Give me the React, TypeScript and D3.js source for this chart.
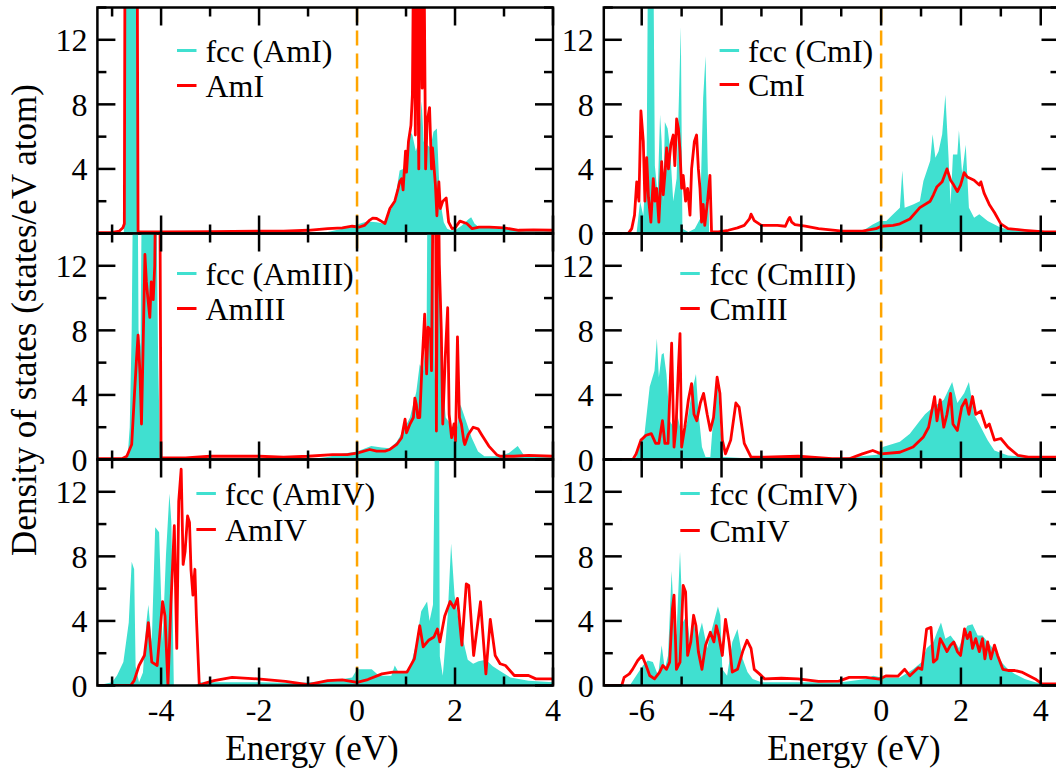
import React from "react";
import * as d3 from "d3";

type P = [number, number];

// ---------- data: [energy (eV), DOS (states/eV atom)] ----------
const amI_fcc: P[] = [[-5.3,0],[-4.76,0],[-4.73,18],[-4.5,18],[-4.48,0],[-4.4,0],[-1.0,0.02],[-0.6,0.1],[-0.3,0.3],[0,0.55],[0.2,0.75],[0.4,0.7],[0.53,0.62],[0.63,1.1],[0.77,2.0],[0.87,3.9],[0.94,4.0],[1.0,4.2],[1.07,6.4],[1.13,6.1],[1.2,5.1],[1.26,5.7],[1.32,8.2],[1.36,5.7],[1.43,5.5],[1.5,5.3],[1.56,6.3],[1.63,6.5],[1.67,3.6],[1.7,2.0],[1.77,0.7],[1.84,0.3],[1.91,0.2],[2.0,0.2],[2.14,0.5],[2.28,0.9],[2.33,1.0],[2.4,0.6],[2.49,0.4],[2.7,0.35],[2.92,0.3],[3.2,0.25],[3.6,0.2],[4.0,0.15]];
const amI: P[] = [[-5.3,0.05],[-5.0,0.07],[-4.85,0.15],[-4.78,0.35],[-4.75,0.6],[-4.735,20],[-4.6,22],[-4.49,20],[-4.47,0.12],[-4.0,0.1],[-3.0,0.12],[-2.0,0.15],[-1.5,0.15],[-1.0,0.2],[-0.6,0.3],[-0.3,0.35],[-0.1,0.45],[0.05,0.4],[0.15,0.5],[0.26,0.83],[0.32,0.95],[0.4,0.93],[0.5,0.75],[0.57,0.62],[0.67,1.55],[0.77,2.0],[0.84,2.8],[0.87,3.2],[0.91,3.4],[0.94,2.7],[0.99,5.1],[1.01,3.8],[1.05,5.7],[1.1,6.7],[1.13,8.6],[1.16,20],[1.19,6.1],[1.22,20],[1.26,4.0],[1.29,20],[1.33,9.0],[1.36,20],[1.4,4.0],[1.43,6.9],[1.48,7.8],[1.52,4.0],[1.54,5.3],[1.6,3.0],[1.63,1.1],[1.67,3.2],[1.7,1.55],[1.75,2.0],[1.82,2.2],[1.87,0.7],[1.94,0.3],[2.0,0.35],[2.1,0.77],[2.24,0.62],[2.35,0.3],[2.49,0.4],[2.7,0.4],[3.0,0.35],[3.3,0.2],[3.6,0.22],[4.0,0.2]];

const amIII_fcc: P[] = [[-5.3,0],[-4.75,0],[-4.68,0.3],[-4.64,2],[-4.6,8],[-4.57,18],[-4.48,18],[-4.46,8],[-4.42,7],[-4.39,18],[-4.1,18],[-4.06,6],[-4.02,0.5],[-4.0,0],[-1.0,0],[-0.6,0.15],[-0.3,0.35],[0,0.5],[0.29,0.83],[0.5,0.75],[0.67,0.7],[0.81,1.1],[0.94,1.76],[1.08,2.6],[1.21,4.2],[1.28,5.9],[1.35,5.5],[1.42,7.8],[1.44,18],[1.55,18],[1.58,4.9],[1.63,12],[1.65,13.7],[1.69,10],[1.75,4.9],[1.81,2.6],[1.91,2.2],[2.01,1.35],[2.11,3.4],[2.2,2.6],[2.34,1.35],[2.47,0.5],[2.6,0.2],[2.9,0.2],[3.1,0.4],[3.28,0.83],[3.4,0.3],[3.6,0.2],[4.0,0.15]];
const amIII: P[] = [[-5.3,0.05],[-4.8,0.05],[-4.7,0.2],[-4.6,0.93],[-4.54,4.24],[-4.5,6.3],[-4.47,7.7],[-4.43,5.3],[-4.4,2.2],[-4.37,6.5],[-4.33,12.7],[-4.3,11.0],[-4.27,10],[-4.23,8.8],[-4.2,11],[-4.16,9.9],[-4.13,12],[-4.1,20],[-4.03,20],[-4.0,0.1],[-3.5,0.1],[-3.0,0.2],[-2.0,0.2],[-1.5,0.15],[-1.0,0.2],[-0.5,0.3],[-0.2,0.3],[0,0.4],[0.26,0.62],[0.4,0.52],[0.57,0.52],[0.67,0.62],[0.81,0.93],[0.91,1.35],[0.98,2.5],[1.01,1.65],[1.08,2.2],[1.15,2.6],[1.18,3.8],[1.21,3.4],[1.24,2.6],[1.28,2.6],[1.33,6.1],[1.38,9.0],[1.42,5.3],[1.45,8.2],[1.5,8.0],[1.52,5.5],[1.56,20],[1.6,20],[1.62,1.76],[1.65,20],[1.68,12.1],[1.72,8.0],[1.75,2.2],[1.8,6.3],[1.85,9.4],[1.88,2.8],[1.93,1.35],[1.98,2.2],[2.01,1.14],[2.05,7.6],[2.09,2.6],[2.13,2.2],[2.18,1.14],[2.2,0.93],[2.27,1.55],[2.37,2.0],[2.47,1.9],[2.55,1.5],[2.69,0.83],[2.85,0.3],[2.92,0.2],[3.2,0.2],[3.5,0.25],[4.0,0.2]];

const amIV_fcc: P[] = [[-5.3,0],[-5.0,0.2],[-4.9,0.62],[-4.77,1.45],[-4.66,3.9],[-4.6,7.66],[-4.55,7.2],[-4.52,1.2],[-4.45,0.2],[-4.37,0.8],[-4.3,3.9],[-4.26,5.0],[-4.19,2.7],[-4.12,9.8],[-4.04,9.5],[-3.97,2.7],[-3.9,8.1],[-3.83,11.9],[-3.79,10.1],[-3.74,0],[-3.3,0],[-3.2,0.2],[-2.0,0.2],[-1.2,0.15],[-0.5,0.3],[-0.1,0.5],[0,1.0],[0.3,1.0],[0.45,0.6],[0.7,0.6],[0.77,1.24],[0.85,0.8],[1.0,0.9],[1.09,1.2],[1.2,2.5],[1.31,4.6],[1.43,5.2],[1.48,4.0],[1.55,5.0],[1.6,18],[1.67,18],[1.69,1.8],[1.75,0.6],[1.85,4.3],[1.92,8.8],[1.99,5.6],[2.09,3.7],[2.19,2.5],[2.26,1.6],[2.37,1.35],[2.48,1.5],[2.63,1.6],[2.77,1.2],[2.92,0.9],[3.13,0.5],[3.5,0.3],[4.0,0.2]];
const amIV: P[] = [[-5.3,0],[-4.62,0],[-4.55,0.3],[-4.45,1.24],[-4.34,1.86],[-4.26,3.9],[-4.19,1.45],[-4.08,1.24],[-3.97,5.2],[-3.92,4.3],[-3.86,0],[-3.8,5.0],[-3.73,9.9],[-3.68,2.3],[-3.64,11.4],[-3.59,13.4],[-3.55,7.5],[-3.51,8.3],[-3.46,10.5],[-3.42,10.1],[-3.39,7.2],[-3.35,5.6],[-3.31,7.2],[-3.28,4.3],[-3.22,0],[-3.1,0.15],[-2.92,0.3],[-2.55,0.5],[-1.97,0.4],[-1.46,0.25],[-1.0,0.05],[-0.6,0.3],[-0.3,0.35],[0,0.2],[0.22,0.37],[0.51,0.72],[0.73,0.83],[1.02,0.83],[1.17,1.65],[1.28,3.7],[1.35,2.4],[1.46,2.8],[1.57,3.0],[1.64,3.5],[1.69,2.7],[1.79,4.3],[1.9,5.2],[1.98,4.8],[2.05,5.4],[2.14,2.5],[2.23,6.3],[2.28,6.2],[2.38,1.86],[2.52,5.2],[2.63,0.72],[2.72,4.1],[2.82,1.86],[2.92,1.35],[3.03,1.24],[3.21,0.62],[3.5,0.62],[3.65,0.41],[4.0,0.41]];

const cmI_fcc: P[] = [[-6.95,0],[-6.13,0],[-6.04,2.0],[-5.96,1.1],[-5.875,4.9],[-5.84,18],[-5.71,18],[-5.67,4.2],[-5.6,2.4],[-5.54,7.35],[-5.5,5.7],[-5.46,2.0],[-5.42,6.9],[-5.35,6.5],[-5.29,5.3],[-5.21,2.0],[-5.125,3.4],[-5.07,8.2],[-5.02,12.8],[-4.98,0.3],[-4.83,0.1],[-4.67,0.3],[-4.54,0.9],[-4.46,8.4],[-4.4,11.0],[-4.35,4.7],[-4.31,0.1],[-4.0,0.05],[-1.0,0.05],[-0.47,0.15],[-0.21,0.56],[-0.04,0.77],[0.13,0.77],[0.3,1.2],[0.47,1.6],[0.53,3.9],[0.59,1.6],[0.8,1.8],[0.97,2.0],[1.06,3.25],[1.23,4.5],[1.29,6.15],[1.36,4.7],[1.44,5.1],[1.53,6.15],[1.61,8.6],[1.69,4.7],[1.74,1.8],[1.8,4.9],[1.91,4.9],[1.95,6.4],[2.03,3.7],[2.12,5.5],[2.2,1.6],[2.33,0.97],[2.46,1.2],[2.67,0.77],[3.0,0.35],[3.43,0.15],[4.47,0.05]];
const cmI: P[] = [[-6.95,0],[-6.33,0.02],[-6.25,0.3],[-6.18,1.14],[-6.125,3.2],[-6.07,2.0],[-6.02,7.6],[-5.96,5.7],[-5.92,2.0],[-5.875,4.7],[-5.83,2.2],[-5.77,0.7],[-5.71,3.4],[-5.67,2.0],[-5.625,2.8],[-5.57,0.7],[-5.5,4.45],[-5.46,2.4],[-5.42,3.6],[-5.375,5.3],[-5.33,4.0],[-5.27,5.5],[-5.21,6.1],[-5.17,4.2],[-5.125,7.1],[-5.08,6.5],[-5.04,5.1],[-5.0,2.8],[-4.96,3.6],[-4.9,2.0],[-4.85,2.8],[-4.79,1.14],[-4.75,4.0],[-4.68,5.7],[-4.625,6.1],[-4.58,4.0],[-4.54,2.8],[-4.5,0.7],[-4.46,1.8],[-4.42,0.5],[-4.35,2.0],[-4.29,3.6],[-4.25,0.1],[-4.08,0.1],[-3.83,0.2],[-3.6,0.35],[-3.43,0.5],[-3.3,0.9],[-3.26,1.2],[-3.18,0.8],[-3.0,0.5],[-2.6,0.5],[-2.4,0.45],[-2.32,0.9],[-2.29,1.0],[-2.24,0.7],[-2.16,0.55],[-1.9,0.45],[-1.57,0.3],[-0.97,0.15],[-0.47,0.15],[-0.13,0.3],[0,0.45],[0.3,0.5],[0.47,0.6],[0.72,0.9],[0.97,1.6],[1.23,2.0],[1.31,2.4],[1.4,2.9],[1.53,3.2],[1.65,4.0],[1.74,3.3],[1.82,3.0],[1.91,2.6],[1.99,3.0],[2.08,3.77],[2.16,3.5],[2.33,3.3],[2.46,3.0],[2.5,3.2],[2.58,2.5],[2.71,1.8],[2.84,1.3],[3.0,0.6],[3.18,0.3],[3.6,0.2],[4.1,0.1],[4.47,0.1]];

const cmIII_fcc: P[] = [[-6.95,0],[-6.15,0],[-6.06,1.0],[-5.93,1.6],[-5.8,4.5],[-5.68,5.5],[-5.62,7.5],[-5.57,5.1],[-5.5,6.5],[-5.45,6.6],[-5.38,5.3],[-5.3,2.4],[-5.2,2.0],[-5.13,3.0],[-5.0,1.6],[-4.87,2.2],[-4.75,4.1],[-4.64,5.3],[-4.58,3.0],[-4.49,0.77],[-4.4,0.15],[-4.28,0.15],[-4.2,2.8],[-4.1,5.2],[-4.03,2.0],[-3.96,0.15],[-3.5,0.1],[-1.0,0.1],[-0.5,0.2],[-0.1,0.3],[0.04,0.77],[0.47,1.1],[0.72,1.6],[0.97,2.4],[1.1,2.8],[1.31,3.25],[1.57,3.7],[1.78,4.8],[1.91,3.5],[2.08,4.1],[2.2,4.8],[2.33,2.8],[2.5,2.0],[2.67,1.2],[2.84,0.56],[3.18,0.25],[3.69,0.15],[4.47,0.05]];
const cmIII: P[] = [[-6.95,0],[-6.22,0],[-6.14,0.35],[-6.02,1.2],[-5.89,1.5],[-5.76,1.6],[-5.65,1.0],[-5.57,1.0],[-5.48,2.4],[-5.42,1.0],[-5.34,1.0],[-5.25,7.2],[-5.19,0.77],[-5.14,2.0],[-5.08,5.7],[-5.04,7.8],[-5.0,0.77],[-4.92,2.0],[-4.83,3.7],[-4.75,4.7],[-4.69,2.8],[-4.62,2.4],[-4.53,3.5],[-4.45,4.1],[-4.36,2.8],[-4.28,1.8],[-4.2,2.6],[-4.11,5.1],[-4.04,4.1],[-3.98,1.2],[-3.9,0.35],[-3.77,1.2],[-3.64,3.5],[-3.56,3.25],[-3.43,1.0],[-3.26,0.15],[-2.92,0.15],[-2.08,0.2],[-1.23,0.05],[-0.8,0.05],[-0.47,0.35],[-0.21,0.56],[0,0.35],[0.47,0.45],[0.8,0.77],[1.06,1.4],[1.19,2.0],[1.29,3.25],[1.34,3.9],[1.4,2.4],[1.48,3.7],[1.57,2.0],[1.65,2.8],[1.74,4.1],[1.8,2.2],[1.91,1.8],[2.02,3.25],[2.12,3.7],[2.2,2.8],[2.29,3.9],[2.37,2.8],[2.5,3.0],[2.63,2.0],[2.71,2.2],[2.84,1.2],[3.0,1.3],[3.18,0.77],[3.43,0.25],[3.69,0.15],[4.47,0.15]];

const cmIV_fcc: P[] = [[-6.95,0],[-6.3,0],[-6.14,0.6],[-5.97,1.24],[-5.85,1.55],[-5.72,1.45],[-5.59,0.62],[-5.5,2.5],[-5.42,1.0],[-5.34,1.86],[-5.25,7.1],[-5.19,3.9],[-5.13,3.1],[-5.04,8.3],[-4.97,3.9],[-4.87,4.35],[-4.79,2.7],[-4.7,4.1],[-4.62,2.7],[-4.49,3.9],[-4.36,2.3],[-4.24,3.5],[-4.09,4.9],[-4.03,4.35],[-3.98,1.0],[-3.86,0.6],[-3.73,2.7],[-3.6,3.5],[-3.47,1.65],[-3.35,0.83],[-3.22,0.4],[-3.0,0.2],[-1.0,0.2],[-0.38,0.4],[-0.2,0.6],[0,0.5],[0.47,0.5],[0.8,1.0],[1.02,1.45],[1.14,2.3],[1.31,2.7],[1.4,3.3],[1.5,3.9],[1.61,2.9],[1.74,3.1],[1.86,2.7],[1.95,2.3],[2.08,3.3],[2.16,3.7],[2.29,3.8],[2.42,3.1],[2.54,3.1],[2.67,2.7],[2.8,2.3],[2.92,1.86],[3.05,1.35],[3.18,1.0],[3.35,0.72],[3.6,0.41],[3.86,0.2],[4.07,0.1],[4.47,0.05]];
const cmIV: P[] = [[-6.95,0],[-6.5,0],[-6.44,0.5],[-6.31,0.72],[-6.23,1.0],[-6.1,1.55],[-5.99,1.86],[-5.89,1.24],[-5.8,0.62],[-5.68,0.41],[-5.55,0.83],[-5.47,1.24],[-5.38,1.0],[-5.3,1.45],[-5.23,4.76],[-5.19,5.6],[-5.13,1.0],[-5.04,1.45],[-4.96,6.2],[-4.9,5.8],[-4.85,1.86],[-4.77,2.7],[-4.7,4.35],[-4.64,3.7],[-4.58,2.1],[-4.49,1.0],[-4.4,2.5],[-4.28,3.3],[-4.19,2.7],[-4.13,3.7],[-4.07,3.1],[-3.98,1.86],[-3.9,4.1],[-3.81,2.7],[-3.73,0.83],[-3.6,1.0],[-3.47,2.1],[-3.36,2.8],[-3.26,2.3],[-3.18,1.0],[-3.05,0.72],[-2.92,0.41],[-2.5,0.45],[-2.08,0.41],[-1.57,0.25],[-1.06,0.27],[-0.8,0.5],[-0.38,0.5],[-0.04,0.4],[0.13,0.6],[0.42,0.58],[0.59,1.0],[0.72,0.6],[0.93,1.1],[1.02,1.0],[1.14,3.5],[1.25,3.6],[1.31,1.45],[1.4,1.65],[1.48,2.9],[1.57,2.5],[1.65,2.1],[1.74,2.5],[1.82,2.7],[1.91,2.1],[1.99,1.86],[2.09,3.5],[2.16,2.9],[2.23,3.3],[2.29,2.3],[2.37,2.9],[2.46,2.1],[2.54,2.9],[2.6,1.65],[2.67,2.7],[2.75,1.65],[2.84,2.5],[2.92,1.86],[3.05,1.0],[3.18,0.93],[3.35,0.93],[3.52,0.83],[3.69,0.62],[3.86,0.41],[4.03,0.1],[4.47,0.1]];

// ---------- axes ----------
const xDomainLeft: [number, number] = [-5.3, 4];
const xDomainRight: [number, number] = [-6.95, 4.47];
const yDomain: [number, number] = [0, 14];
const xTickLabelsLeft = [-4, -2, 0, 2, 4];
const xTickLabelsRight = [-6, -4, -2, 0, 2, 4];
const yTickLabels = [0, 4, 8, 12];
const fccLabels = ["fcc (AmI)", "fcc (AmIII)", "fcc (AmIV)", "fcc (CmI)", "fcc (CmIII)", "fcc (CmIV)"];
const phaseLabels = ["AmI", "AmIII", "AmIV", "CmI", "CmIII", "CmIV"];
const xTitle = "Energy (eV)";
const yTitle = "Density of states (states/eV atom)";

const CYAN = "#40E0D0";
const RED = "#FF0000";
const ORANGE = "#FFA500";
const FONT = "'Liberation Serif', 'Times New Roman', serif";

const W = 1056, H = 773;
const COLS = [
  { x0: 97.4, x1: 553, domain: xDomainLeft, labels: xTickLabelsLeft, titleX: 312 },
  { x0: 603.8, x1: 1059.5, domain: xDomainRight, labels: xTickLabelsRight, titleX: 854 },
];
const ROW_TOPS = [7.5, 233.5, 459.5];
const PH = 226;

const fccSeries = [amI_fcc, amIII_fcc, amIV_fcc, cmI_fcc, cmIII_fcc, cmIV_fcc];
const phaseSeries = [amI, amIII, amIV, cmI, cmIII, cmIV];
// legend placement per panel: line-sample x, text x, baselines
const LEG = [
  { lx: 177, tx: 205.4, b1: 62, b2: 97 },
  { lx: 177, tx: 205.4, b1: 285, b2: 320 },
  { lx: 196.4, tx: 225, b1: 505, b2: 541 },
  { lx: 719.6, tx: 748, b1: 62, b2: 96 },
  { lx: 680.3, tx: 709.5, b1: 285, b2: 320 },
  { lx: 680.3, tx: 709.5, b1: 505, b2: 542 },
];

function Panel({ idx }: { idx: number }) {
  const col = idx < 3 ? 0 : 1;
  const row = idx % 3;
  const c = COLS[col];
  const top = ROW_TOPS[row];
  const x = d3.scaleLinear().domain(c.domain).range([c.x0, c.x1]);
  const y = d3.scaleLinear().domain(yDomain).range([top + PH, top]);
  const area = d3.area<P>().x(d => x(d[0])).y0(y(0)).y1(d => y(d[1]));
  const line = d3.line<P>().x(d => x(d[0])).y(d => y(d[1]));
  const clipId = `clip${idx}`;
  const majorLen = 18, minorLen = 9;
  const xMinor = d3.range(Math.ceil(c.domain[0]), Math.floor(c.domain[1]) + 1);
  const yAll = d3.range(0, 15, 2);
  const leg = LEG[idx];
  const showZero = !(idx === 0);
  const axisStroke = { stroke: "#000", strokeWidth: 2.5 };
  return (
    <g>
      <defs>
        <clipPath id={clipId}>
          <rect x={c.x0} y={top} width={c.x1 - c.x0} height={PH} />
        </clipPath>
      </defs>
      <g clipPath={`url(#${clipId})`}>
        <path d={area(fccSeries[idx]) || ""} fill={CYAN} stroke="none" />
        <path d={line(phaseSeries[idx]) || ""} fill="none" stroke={RED} strokeWidth={2.8} strokeLinejoin="round" />
        <line x1={x(0)} x2={x(0)} y1={top} y2={top + PH} stroke={ORANGE} strokeWidth={2.5} strokeDasharray="15,8" />
      </g>
      {/* ticks */}
      {xMinor.map(t => {
        const len = t % 2 === 0 ? majorLen : minorLen;
        return (
          <g key={"xt" + t}>
            <line x1={x(t)} x2={x(t)} y1={top + PH} y2={top + PH - len} {...axisStroke} />
            <line x1={x(t)} x2={x(t)} y1={top} y2={top + len} {...axisStroke} />
          </g>
        );
      })}
      {yAll.map(t => {
        const len = t % 4 === 0 ? majorLen : minorLen;
        return (
          <g key={"yt" + t}>
            <line x1={c.x0} x2={c.x0 + len} y1={y(t)} y2={y(t)} {...axisStroke} />
            <line x1={c.x1} x2={c.x1 - len} y1={y(t)} y2={y(t)} {...axisStroke} />
          </g>
        );
      })}
      <rect x={c.x0} y={top} width={c.x1 - c.x0} height={PH} fill="none" {...axisStroke} />
      {/* y tick labels */}
      {yTickLabels.filter(t => t !== 0 || showZero).map(t => (
        <text key={"yl" + t} x={c.x0 - 10} y={y(t)} dy="0.35em" textAnchor="end" fontSize={32} fontFamily={FONT}>{t}</text>
      ))}
      {/* x tick labels on bottom row */}
      {row === 2 && c.labels.map(t => (
        <text key={"xl" + t} x={x(t)} y={top + PH + 35} textAnchor="middle" fontSize={32} fontFamily={FONT}>{t}</text>
      ))}
      {/* legend */}
      <line x1={leg.lx} x2={leg.lx + 19.5} y1={leg.b1 - 11.5} y2={leg.b1 - 11.5} stroke={CYAN} strokeWidth={3} />
      <text x={leg.tx} y={leg.b1} fontSize={32} fontFamily={FONT}>{fccLabels[idx]}</text>
      <line x1={leg.lx} x2={leg.lx + 19.5} y1={leg.b2 - 11.5} y2={leg.b2 - 11.5} stroke={RED} strokeWidth={3} />
      <text x={leg.tx} y={leg.b2} fontSize={32} fontFamily={FONT}>{phaseLabels[idx]}</text>
    </g>
  );
}

export default function App() {
  return (
    <div style={{ position: "absolute", left: 0, top: 0, width: W, height: H, background: "#fff" }}>
      <svg width={W} height={H} viewBox={`0 0 ${W} ${H}`} style={{ display: "block" }}>
        <rect x={0} y={0} width={W} height={H} fill="#fff" />
        {[0, 1, 2, 3, 4, 5].map(i => <Panel key={i} idx={i} />)}
        {COLS.map((c, i) => (
          <text key={"xt" + i} x={c.titleX} y={760} textAnchor="middle" fontSize={35} fontFamily={FONT}>{xTitle}</text>
        ))}
        <text transform="translate(36,320) rotate(-90)" textAnchor="middle" fontSize={35} fontFamily={FONT}>{yTitle}</text>
      </svg>
    </div>
  );
}
